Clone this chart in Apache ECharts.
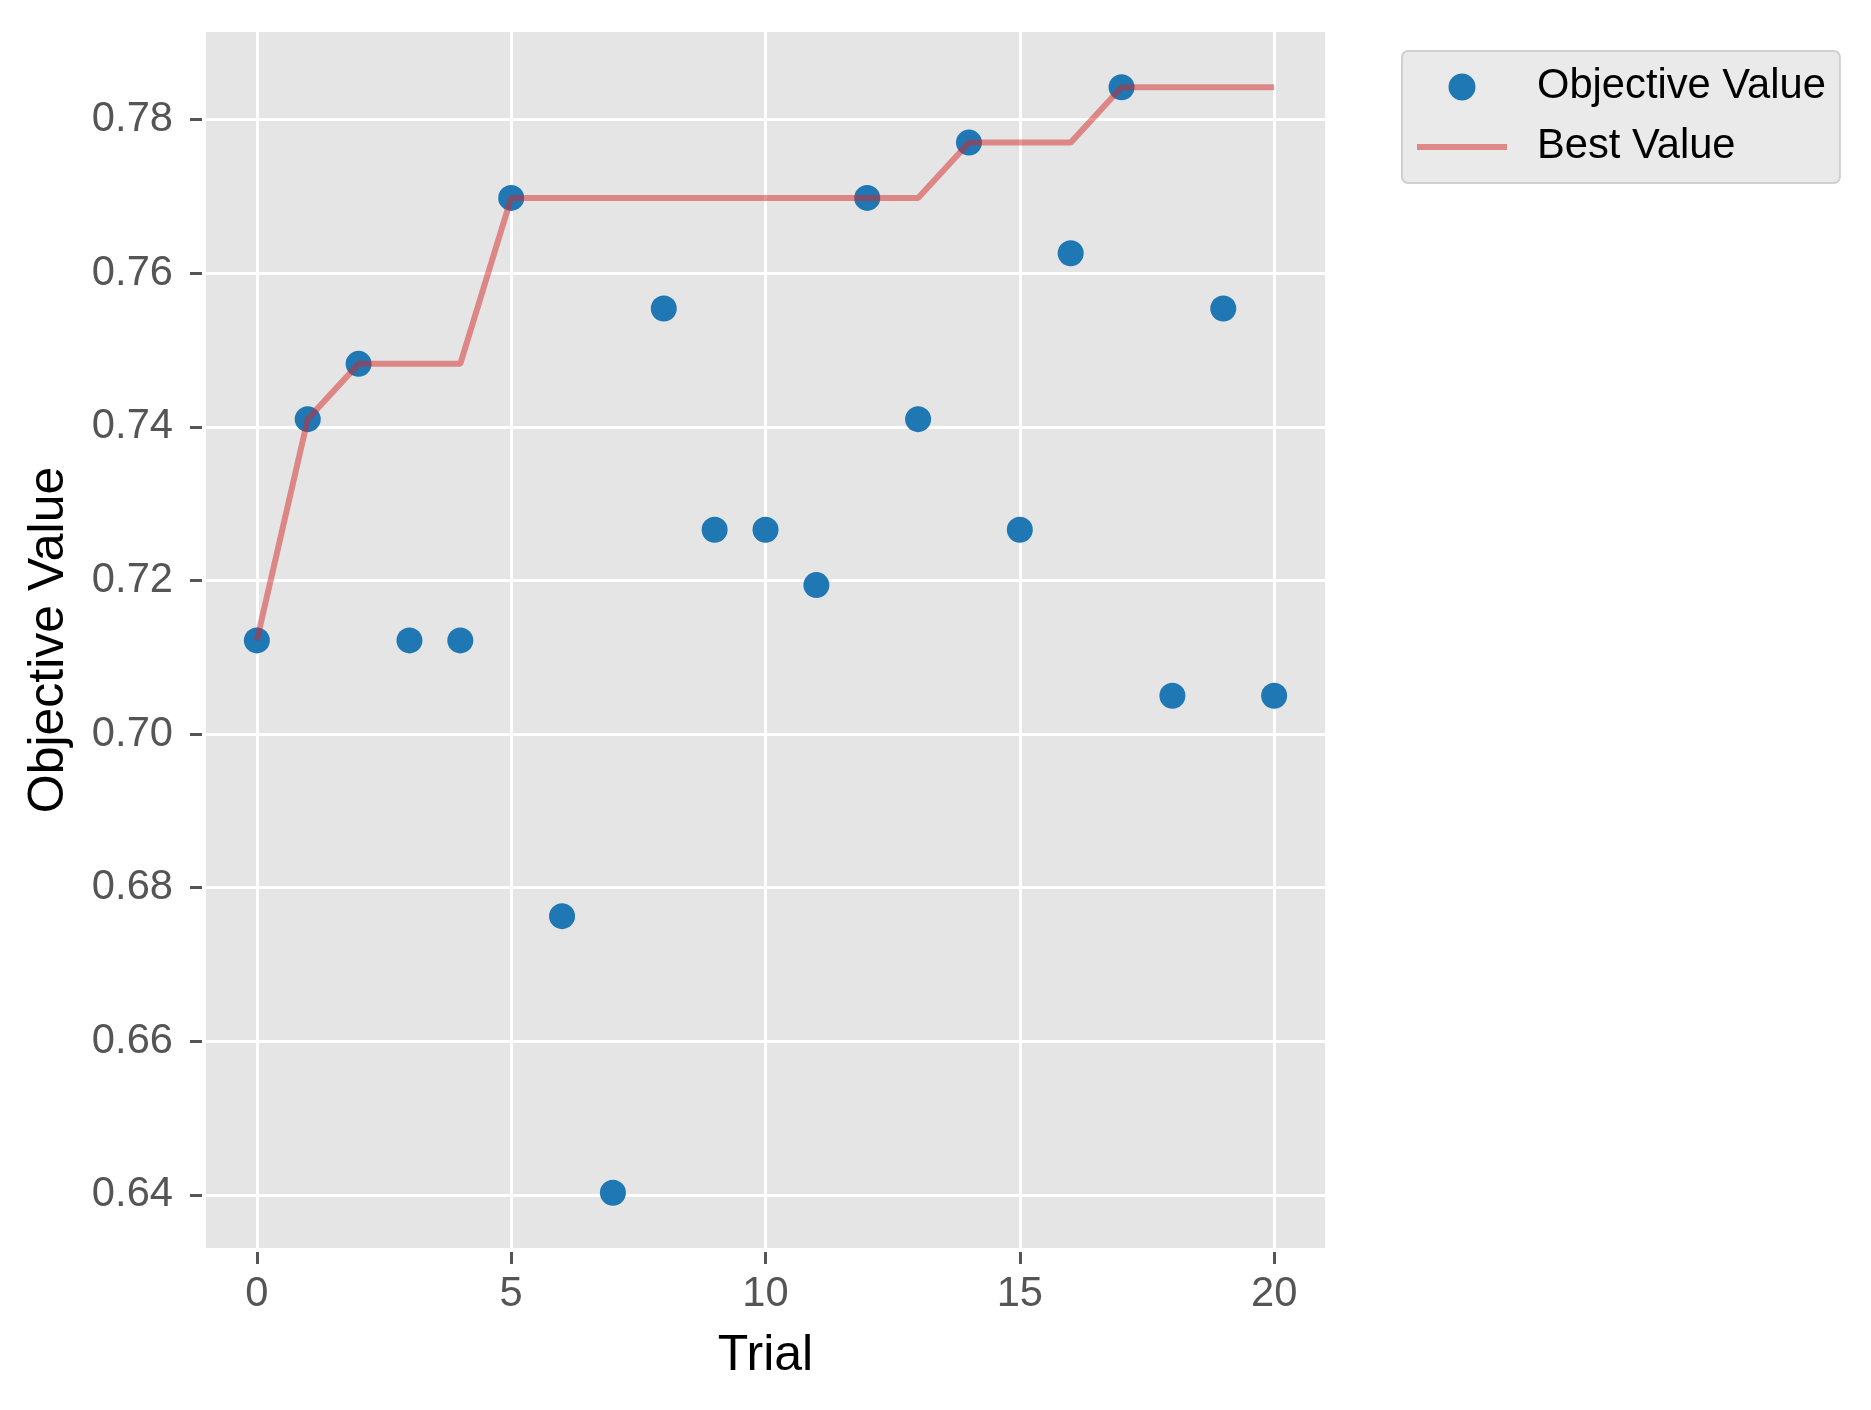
<!DOCTYPE html>
<html>
<head>
<meta charset="utf-8">
<script src="https://cdn.jsdelivr.net/npm/echarts@6/dist/echarts.min.js"></script>
<style>html,body{margin:0;padding:0;background:#fff;}#c{width:1871px;height:1410px;}</style>
</head>
<body>
<div id="c"></div>
<script>
const trials = [0,1,2,3,4,5,6,7,8,9,10,11,12,13,14,15,16,17,18,19,20];
const objectiveValues = [0.7122,0.7410,0.7482,0.7122,0.7122,0.7698,0.6763,0.6403,0.7554,0.7266,0.7266,0.7194,0.7698,0.7410,0.7770,0.7266,0.7626,0.7842,0.7050,0.7554,0.7050];
const bestValues = [0.7122,0.7410,0.7482,0.7482,0.7482,0.7698,0.7698,0.7698,0.7698,0.7698,0.7698,0.7698,0.7698,0.7698,0.7770,0.7770,0.7770,0.7842,0.7842,0.7842,0.7842];
const xTicks = [0,5,10,15,20];
const yTicks = [0.64,0.66,0.68,0.70,0.72,0.74,0.76,0.78];

const FONT = 'Liberation Sans';
const chart = echarts.init(document.getElementById('c'), null, {renderer:'canvas'});
chart.setOption({
  animation:false,
  backgroundColor:'#ffffff',
  textStyle:{fontFamily:FONT},
  grid:{left:206,top:32,right:546,bottom:162,show:true,backgroundColor:'#E5E5E5',borderWidth:0},
  legend:{
    orient:'vertical', left:1402, top:51, align:'left',
    backgroundColor:'#EAEAEA', borderColor:'#D0D0D0', borderWidth:2, borderRadius:6,
    padding:[15,14,15,15], itemGap:18, itemWidth:90, itemHeight:27,
    textStyle:{fontFamily:FONT,fontSize:41.7,color:'#000',padding:[0,0,0,25]},
    data:[
      {name:'Objective Value',icon:'circle'},
      {name:'Best Value',icon:'path://M0,0L90,0L90,6L0,6Z',itemStyle:{color:'#d62728',opacity:0.5}}
    ]
  },
  xAxis:{
    type:'value', min:-1, max:21, offset:4,
    name:'Trial', nameLocation:'middle', nameGap:79,
    nameTextStyle:{fontFamily:FONT,fontSize:50,color:'#000'},
    axisLine:{show:false,onZero:false},
    axisTick:{show:true,length:12,lineStyle:{color:'#555555',width:3},customValues:xTicks},
    axisLabel:{fontFamily:FONT,fontSize:41.7,color:'#555555',margin:22,customValues:xTicks,formatter:v=>String(v)},
    splitLine:{show:true,lineStyle:{color:'#ffffff',width:3}}
  },
  yAxis:{
    type:'value', min:0.6331, max:0.7914, offset:4,
    name:'Objective Value', nameLocation:'middle', nameGap:128,
    nameTextStyle:{fontFamily:FONT,fontSize:50,color:'#000'},
    axisLine:{show:false,onZero:false},
    axisTick:{show:true,length:12,lineStyle:{color:'#555555',width:3},customValues:yTicks},
    axisLabel:{fontFamily:FONT,fontSize:41.7,color:'#555555',margin:29,customValues:yTicks,formatter:v=>v.toFixed(2)},
    splitLine:{show:true,lineStyle:{color:'#ffffff',width:3}}
  },
  series:[
    {name:'Objective Value',type:'scatter',z:2,symbol:'circle',symbolSize:26,
     itemStyle:{color:'#1f77b4',opacity:1},
     data:trials.map((t,i)=>[t,objectiveValues[i]])},
    {name:'Best Value',type:'line',z:3,symbol:'none',showSymbol:false,
     lineStyle:{color:'#d62728',width:6,opacity:0.5},itemStyle:{color:'#d62728',opacity:0.5},
     data:trials.map((t,i)=>[t,bestValues[i]])}
  ]
});
</script>
</body>
</html>
